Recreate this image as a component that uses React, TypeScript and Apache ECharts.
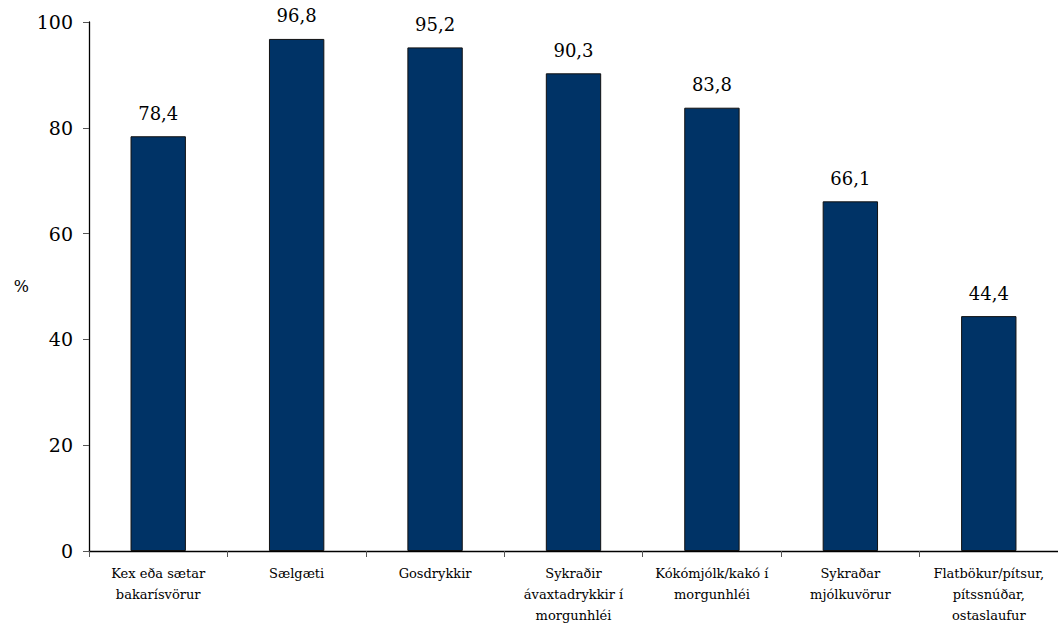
import React, { useEffect, useRef } from "react";
import * as echarts from "echarts";

const categories = [
  "Kex eða sætar\nbakarísvörur",
  "Sælgæti",
  "Gosdrykkir",
  "Sykraðir\návaxtadrykkir í\nmorgunhléi",
  "Kókómjólk/kakó í\nmorgunhléi",
  "Sykraðar\nmjólkuvörur",
  "Flatbökur/pítsur,\npítssnúðar,\nostaslaufur",
];
const values = [78.4, 96.8, 95.2, 90.3, 83.8, 66.1, 44.4];
const yTicks = { min: 0, max: 100, interval: 20 };

const FONT = "DejaVu Serif";

export default function App() {
  const ref = useRef<HTMLDivElement>(null);
  useEffect(() => {
    document.body.style.margin = "0";
    const chart = echarts.init(ref.current!, null, { renderer: "svg" });
    chart.setOption({
      animation: false,
      backgroundColor: "#ffffff",
      textStyle: { fontFamily: FONT },
      grid: { left: 89, right: -8, top: 22, bottom: 83, containLabel: false },
      xAxis: {
        type: "category",
        data: categories,
        boundaryGap: true,
        axisLine: { lineStyle: { color: "#000", width: 1.3 } },
        axisTick: { show: true, length: 6, lineStyle: { color: "#555" }, alignWithLabel: false },
        axisLabel: {
          interval: 0,
          color: "#000",
          fontFamily: FONT,
          fontSize: 13,
          lineHeight: 21,
          margin: 12,
          align: "center",
        },
      },
      yAxis: {
        type: "value",
        min: yTicks.min,
        max: yTicks.max,
        interval: yTicks.interval,
        name: "%",
        nameLocation: "middle",
        nameRotate: 0,
        nameGap: 60,
        nameTextStyle: { color: "#000", fontFamily: FONT, fontSize: 16, padding: [8, 0, 0, 0] },
        splitLine: { show: false },
        axisLine: { show: true, lineStyle: { color: "#000", width: 1.3 } },
        axisTick: { show: true, length: 6, lineStyle: { color: "#555" } },
        axisLabel: { color: "#000", fontFamily: FONT, fontSize: 19, margin: 16 },
      },
      series: [
        {
          type: "bar",
          data: values,
          barWidth: "40%",
          itemStyle: { color: "#003366", borderColor: "#111", borderWidth: 1 },
          label: {
            show: true,
            position: "top",
            distance: 14,
            color: "#000",
            fontFamily: FONT,
            fontSize: 18,
            formatter: (p: any) => p.value.toFixed(1).replace(".", ","),
          },
        },
      ],
    });
    return () => chart.dispose();
  }, []);
  return <div ref={ref} style={{ width: 1058, height: 634 }} />;
}
